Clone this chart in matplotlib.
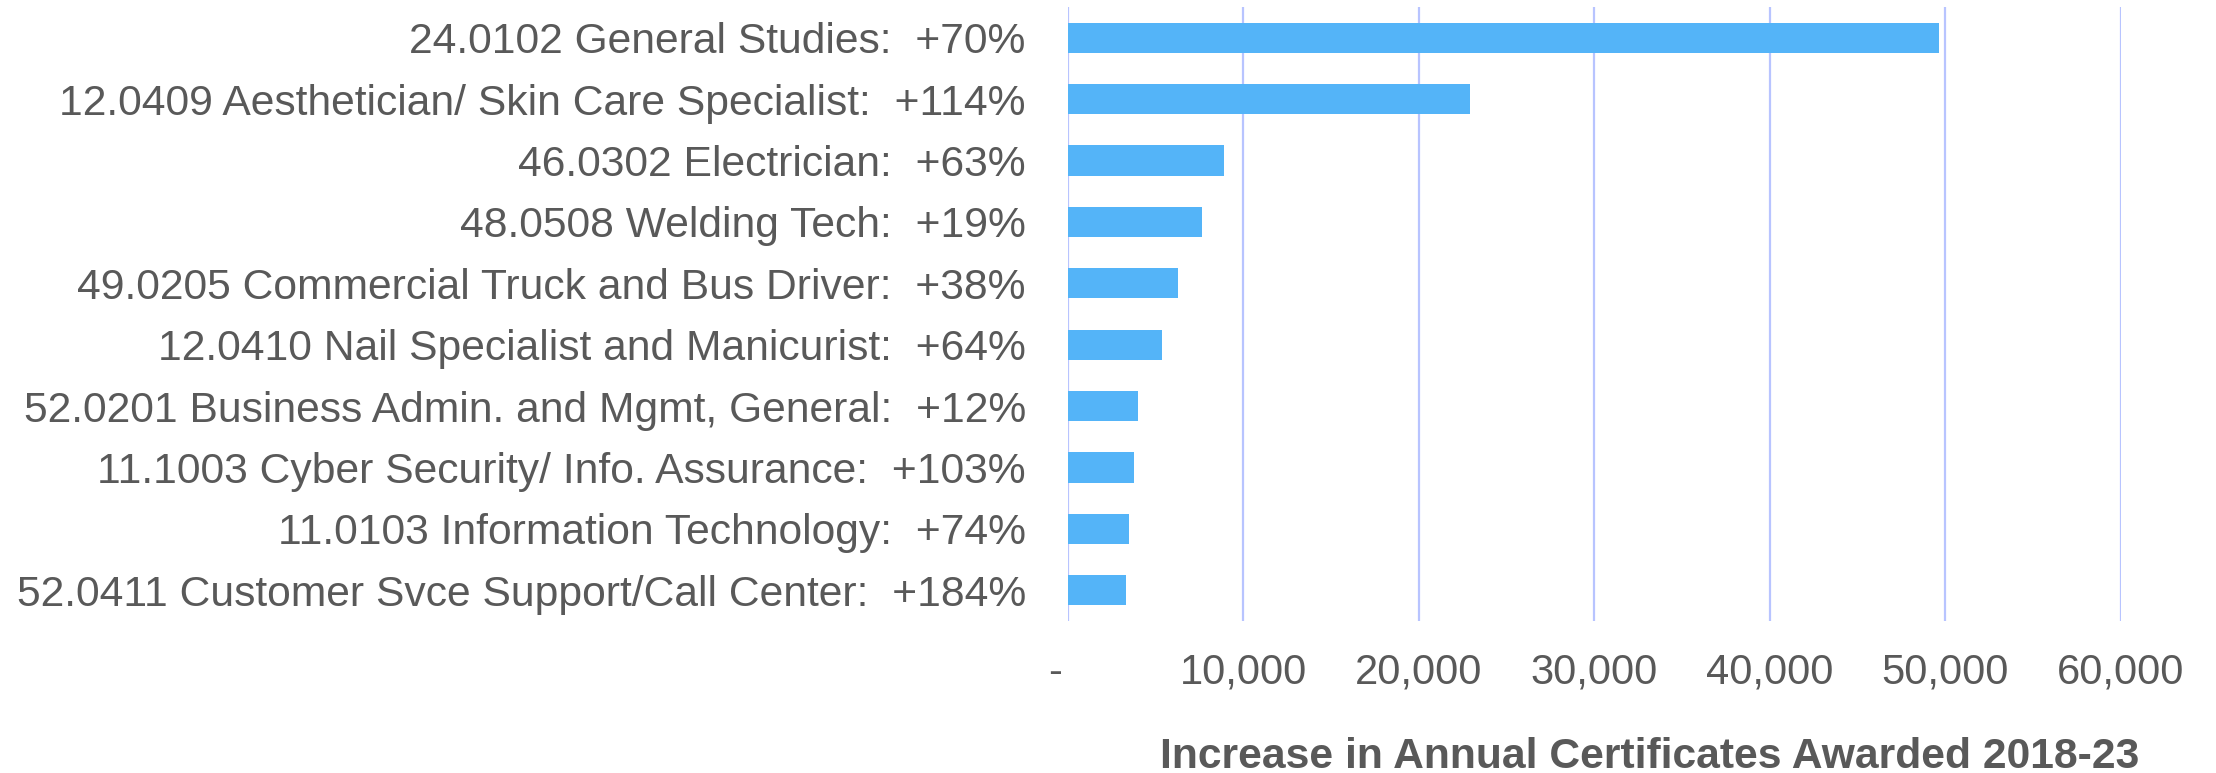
import matplotlib.pyplot as plt
from matplotlib.ticker import FuncFormatter

plt.rcParams['font.family'] = ['Liberation Sans', 'DejaVu Sans']

# Data (top to bottom)
programs = [
    "24.0102 General Studies:  +70%",
    "12.0409 Aesthetician/ Skin Care Specialist:  +114%",
    "46.0302 Electrician:  +63%",
    "48.0508 Welding Tech:  +19%",
    "49.0205 Commercial Truck and Bus Driver:  +38%",
    "12.0410 Nail Specialist and Manicurist:  +64%",
    "52.0201 Business Admin. and Mgmt, General:  +12%",
    "11.1003 Cyber Security/ Info. Assurance:  +103%",
    "11.0103 Information Technology:  +74%",
    "52.0411 Customer Svce Support/Call Center:  +184%",
]
increase = [49620, 22930, 8920, 7670, 6300, 5390, 4040, 3800, 3480, 3350]
xticks = [0, 10000, 20000, 30000, 40000, 50000, 60000]

text_color = '#595959'
bar_color = '#54B4F8'
grid_color = '#B8C4FF'

fig = plt.figure(figsize=(22.16, 7.73), dpi=100)
ax = fig.add_axes([1067.5 / 2216, 1 - 621 / 773, (2121 - 1067.5) / 2216, (621 - 7) / 773])

ypos = list(range(len(programs)))
ax.barh(ypos, increase, height=0.49, color=bar_color, zorder=3)
ax.set_ylim(len(programs) - 0.5, -0.5)
ax.set_xlim(0, 60000)

ax.set_yticks(ypos)
ax.set_yticklabels(programs)
ax.set_xticks(xticks)
ax.xaxis.set_major_formatter(FuncFormatter(lambda v, p: "-  " if v == 0 else f"{int(v):,}"))

ax.tick_params(axis='y', length=0, pad=30, labelsize=30.7, labelcolor=text_color)
ax.tick_params(axis='x', length=0, pad=23, labelsize=30, labelcolor=text_color)

ax.grid(axis='x', color=grid_color, linewidth=1.6, zorder=0)
ax.grid(axis='y', visible=False)
for s in ax.spines.values():
    s.set_visible(False)

fig.text(1650 / 2216, 1 - 768 / 773, "Increase in Annual Certificates Awarded 2018-23",
         ha='center', va='baseline', fontsize=30.7, fontweight='bold', color=text_color)

fig.savefig('out.png', dpi=100)
